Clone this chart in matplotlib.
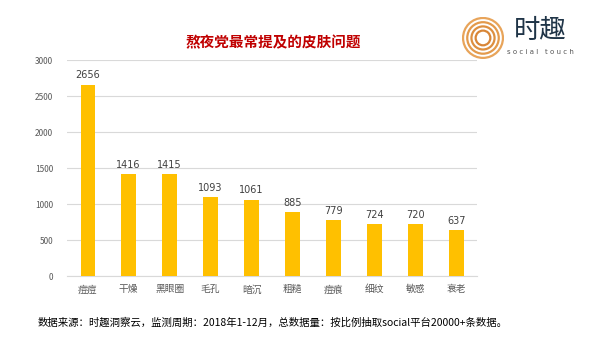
import matplotlib.pyplot as plt
from matplotlib.patches import Circle

plt.rcParams['font.family'] = ['Noto Sans CJK SC', 'DejaVu Sans']

categories = ['痘痘', '干燥', '黑眼圈', '毛孔', '暗沉', '粗糙', '痘痕', '细纹', '敏感', '衰老']
values = [2656, 1416, 1415, 1093, 1061, 885, 779, 724, 720, 637]
yticks = [0, 500, 1000, 1500, 2000, 2500, 3000]

fig = plt.figure(figsize=(6, 3.53), dpi=100)
ax = fig.add_axes([0.112, 0.218, 0.683, 0.612])

x = range(len(categories))
bars = ax.bar(x, values, width=0.35, color='#FFC000', zorder=3)
for b, v in zip(bars, values):
    ax.text(b.get_x() + b.get_width() / 2, v + 60, str(v), ha='center', va='bottom',
            fontsize=7, color='#404040', family='DejaVu Sans')

ax.set_xlim(-0.5, len(categories) - 0.5)
ax.set_ylim(0, 3000)
ax.set_yticks(yticks)
ax.set_yticklabels([str(t) for t in yticks], fontsize=6, color='#595959')
ax.set_xticks(list(x))
ax.set_xticklabels(categories, fontsize=7, color='#595959')
ax.tick_params(length=0, pad=6)
ax.tick_params(axis='y', pad=10)
ax.grid(axis='y', color='#D9D9D9', linewidth=0.8, zorder=0)
for s in ['top', 'right', 'left']:
    ax.spines[s].set_visible(False)
ax.spines['bottom'].set_color('#D9D9D9')

fig.text(0.455, 0.88, '熬夜党最常提及的皮肤问题', ha='center', va='center',
         fontsize=10.5, fontweight='bold', color='#C00000')

fig.text(0.062, 0.085, '数据来源：时趣洞察云，监测周期：2018年1-12月，总数据量：按比例抽取social平台20000+条数据。',
         ha='left', va='center', fontsize=7.5, color='#000000')

# logo
lax = fig.add_axes([0.77, 0.83, 0.07, 0.125])
lax.set_xlim(-1, 1)
lax.set_ylim(-1, 1)
lax.set_aspect('equal')
lax.axis('off')
for r, c in zip([0.95, 0.75, 0.55, 0.35], ['#E8A45A', '#E39A4C', '#DD8F40', '#D88638']):
    lax.add_patch(Circle((0, 0), r, fill=False, edgecolor=c, linewidth=1.6))
fig.text(0.9, 0.915, '时趣', ha='center', va='center', fontsize=19, color='#1F3447')
fig.text(0.9, 0.852, 's o c i a l   t o u c h', ha='center', va='center', fontsize=5, color='#555555',
         family='DejaVu Sans')

fig.savefig('out.png', dpi=100, facecolor='white')
